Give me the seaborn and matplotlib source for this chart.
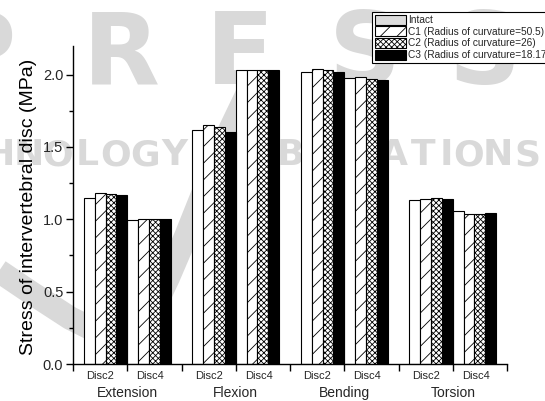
import numpy as np
import pandas as pd
import matplotlib
matplotlib.use("Agg")
import matplotlib.pyplot as plt
import matplotlib.patches as mpatches
from matplotlib.ticker import MultipleLocator
import seaborn as sns

# ---- data -------------------------------------------------------------
motions = ["Extension", "Flexion", "Bending", "Torsion"]
discs = ["Disc2", "Disc4"]
cases = ["Intact",
         "C1 (Radius of curvature=50.5)",
         "C2 (Radius of curvature=26)",
         "C3 (Radius of curvature=18.17)"]
# stress (MPa), order: Ext-Disc2, Ext-Disc4, Flex-Disc2, Flex-Disc4,
#                      Bend-Disc2, Bend-Disc4, Tors-Disc2, Tors-Disc4
intact = [1.146, 0.996, 1.618, 2.033, 2.021, 1.976, 1.134, 1.060]
c1 = [1.180, 1.001, 1.651, 2.033, 2.038, 1.983, 1.139, 1.037]
c2 = [1.178, 1.001, 1.636, 2.033, 2.031, 1.971, 1.146, 1.037]
c3 = [1.169, 1.005, 1.606, 2.033, 2.015, 1.964, 1.143, 1.046]
y_ticks = [0.0, 0.5, 1.0, 1.5, 2.0]
y_ticklabels = ["0.0", "0.5", "1.0", "1.5", "2.0"]

# ---- style ------------------------------------------------------------
sns.set_theme(style="ticks")
plt.rcParams["font.family"] = ["Liberation Sans", "DejaVu Sans"]
plt.rcParams["hatch.linewidth"] = 0.6

rows = []
for case, vals in zip(cases, [intact, c1, c2, c3]):
    for k, v in enumerate(vals):
        m, d = divmod(k, 2)
        rows.append({"case": case, "stress": v,
                     "pos": m + (-0.2 if d == 0 else 0.2)})
df = pd.DataFrame(rows)

W, H = 545, 401
fig = plt.figure(figsize=(W / 100, H / 100), dpi=100)

# ---- publisher watermark (behind the plot) ----------------------------
bg = fig.add_axes([0, 0, 1, 1], zorder=0)
bg.set_xlim(0, W)
bg.set_ylim(H, 0)
bg.axis("off")
wm = "#d9d9d9"
for ch, cx in zip("PRESS", [-20, 121, 240, 365, 485]):
    bg.text(cx, 84, ch, fontsize=72, fontweight="bold", family="DejaVu Sans",
            color=wm, ha="center", va="baseline")
line2 = "TECHNOLOGY PUBLICATIONS"
cx, prev = -87.0, None
for ch in line2:
    w = 17 if ch == "I" else 29
    if prev is not None:
        cx += (prev + w) / 2
    prev = w
    if ch != " ":
        bg.text(cx, 165, ch, fontsize=26, fontweight="bold",
                family="DejaVu Sans", color=wm, ha="center", va="baseline")
sx = [-10, 30, 70, 100, 122, 138, 152, 168, 186, 206, 228, 252]
sy = [265, 292, 318, 333, 338, 332, 312, 278, 236, 186, 134, 84]
bg.plot(sx, sy, color=wm, lw=17, solid_capstyle="butt", solid_joinstyle="round")

# ---- main axes --------------------------------------------------------
ax = fig.add_axes([73 / W, 1 - 364 / H, (507 - 73) / W, (364 - 45.7) / H], zorder=1)
ax.patch.set_alpha(0)

sns.barplot(data=df, x="pos", y="stress", hue="case", hue_order=cases,
            native_scale=True, width=1.0, dodge=True, gap=0,
            palette=["white", "white", "white", "black"], saturation=1,
            edgecolor="black", linewidth=0.8, errorbar=None, legend=False, ax=ax)

hatches = [None, "//", "xxxxxx", None]
for cont, h in zip(ax.containers, hatches):
    for p in cont:
        p.set_hatch(h)

ax.set_xlim(-0.5, 3.5)
ax.set_ylim(0, 2.2)
ax.set_xticks(np.arange(-0.5, 3.51, 0.5))
ax.set_xticklabels([])
ax.set_yticks(y_ticks)
ax.set_yticklabels(y_ticklabels, fontsize=10.5)
ax.yaxis.set_minor_locator(MultipleLocator(0.25))
ax.tick_params(which="major", direction="out", length=5, width=1, color="black", pad=2)
ax.tick_params(which="minor", direction="out", length=3, width=1, color="black")
ax.tick_params(axis="x", which="minor", length=0)
for s in ["top", "right"]:
    ax.spines[s].set_visible(False)
for s in ["left", "bottom"]:
    ax.spines[s].set_linewidth(1)
    ax.spines[s].set_color("black")

ax.set_xlabel("")
ax.set_ylabel("Stress of intervertebral disc (MPa)", fontsize=14, color="black")
ax.yaxis.set_label_coords(-0.083, 0.493)

tr = ax.get_xaxis_transform()
for m, name in enumerate(motions):
    ax.text(m - 0.25, -0.038, discs[0], transform=tr, ha="center", va="center", fontsize=8)
    ax.text(m + 0.21, -0.038, discs[1], transform=tr, ha="center", va="center", fontsize=8)
    ax.text(m, -0.092, name, transform=tr, ha="center", va="center", fontsize=10)

# ---- legend -----------------------------------------------------------
face = ["#dcdcdc", "white", "white", "black"]
handles = [mpatches.Patch(facecolor=f, edgecolor="black", hatch=h, linewidth=0.8)
           for f, h in zip(face, hatches)]
leg = fig.legend(handles, cases, loc="upper left",
                 bbox_to_anchor=(372 / W, 1 - 12 / H), bbox_transform=fig.transFigure,
                 fontsize=7.3, frameon=True, fancybox=False, shadow=False,
                 edgecolor="black", framealpha=1, handlelength=3.1, handleheight=1.15,
                 labelspacing=0.12, handletextpad=0.2, borderpad=0.25, borderaxespad=0)
leg.get_frame().set_linewidth(0.8)
leg.set_zorder(5)

fig.savefig("out.png", dpi=100)
